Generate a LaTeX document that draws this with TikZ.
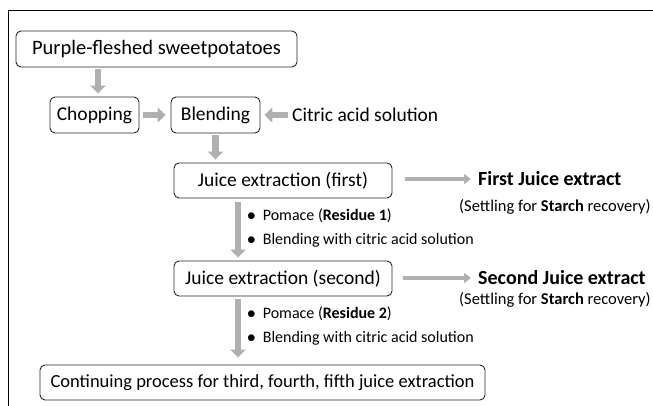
\documentclass[tikz,border=0pt]{standalone}
\usepackage{fontspec}
\setmainfont{Carlito}
\usetikzlibrary{arrows.meta,calc}
\tikzset{
  box/.style={draw=black!85, line width=0.9pt, rounded corners=5pt, align=center, inner sep=0pt, font=\fontsize{19.5}{21}\selectfont},
  blk/.style={draw=gray!62, line width=6.5pt, -{Triangle[width=15pt,length=8pt]}},
  thin/.style={draw=gray!62, line width=4.5pt, -{Triangle[width=10pt,length=7pt]}},
  big/.style={font=\fontsize{20}{22}\selectfont\bfseries, anchor=west, inner sep=0pt},
  small/.style={font=\fontsize{16}{18}\selectfont, anchor=west, inner sep=0pt},
  set/.style={font=\fontsize{16.5}{18}\selectfont, anchor=west, inner sep=0pt},
  mid/.style={font=\fontsize{19.5}{21}\selectfont, anchor=west, inner sep=0pt}
}
\newcommand{\bul}{$\bullet$\hspace{7pt}}
\begin{document}
\begin{tikzpicture}[x=1pt,y=1pt]
\useasboundingbox (0,0) rectangle (653,-406);
\draw[line width=0.9pt] (653,-10) -- (8,-10) -- (8,-406);
\node[box, minimum width=281, minimum height=36, font=\fontsize{20.5}{22}\selectfont] (b1) at (156.5,-49) {Purple-fleshed sweetpotatoes};
\node[box, minimum width=89, minimum height=36] (chop) at (94.5,-115) {Chopping};
\node[box, minimum width=89, minimum height=36] (blend) at (215.5,-115) {Blending};
\node[mid] (cit) at (292,-115) {Citric acid solution};
\node[box, minimum width=218, minimum height=35] (je1) at (283,-180.5) {Juice extraction (first)};
\node[big] (fje) at (478,-179) {First Juice extract};
\node[set] (s1) at (459,-207) {(Settling for \textbf{Starch} recovery)};
\node[small] (p1) at (247,-216) {\bul Pomace (\textbf{Residue 1})};
\node[small] (c1) at (247,-240) {\bul Blending with citric acid solution};
\node[box, minimum width=218, minimum height=35] (je2) at (283,-278.5) {Juice extraction (second)};
\node[big] (sje) at (478,-278) {Second Juice extract};
\node[set] (s2) at (459,-300) {(Settling for \textbf{Starch} recovery)};
\node[small] (p2) at (247,-314) {\bul Pomace (\textbf{Residue 2})};
\node[small] (c2) at (247,-338) {\bul Blending with citric acid solution};
\node[box, minimum width=445, minimum height=35, font=\fontsize{18.5}{20}\selectfont] (b6) at (262.5,-382.5) {Continuing process for third, fourth, fifth juice extraction};
% arrows
\draw[blk] ($(chop.north |- b1.south)+(3.5,-2)$) -- ($(chop.north)+(3.5,3)$);
\draw[blk] ($(chop.east)+(4,0)$) -- ($(blend.west)+(-5,0)$);
\draw[blk] ($(cit.west)+(-4,0)$) -- ($(blend.east)+(4,0)$);
\draw[blk] ($(blend.south)+(0,-2)$) -- ($(blend.south |- je1.north)+(0,3)$);
\draw[thin] ($(je1.east)+(13,1.5)$) -- ($(fje.west)+(-7,0)$);
\draw[blk] ($(je1.south)+(-45,-4)$) -- ($(je2.north)+(-45,3)$);
\draw[thin] ($(je2.east)+(11,0.5)$) -- ($(sje.west)+(-7,0)$);
\draw[blk] ($(je2.south)+(-45,-3)$) -- ($(b6.north -| je2.south)+(-45,7)$);
\end{tikzpicture}
\end{document}
